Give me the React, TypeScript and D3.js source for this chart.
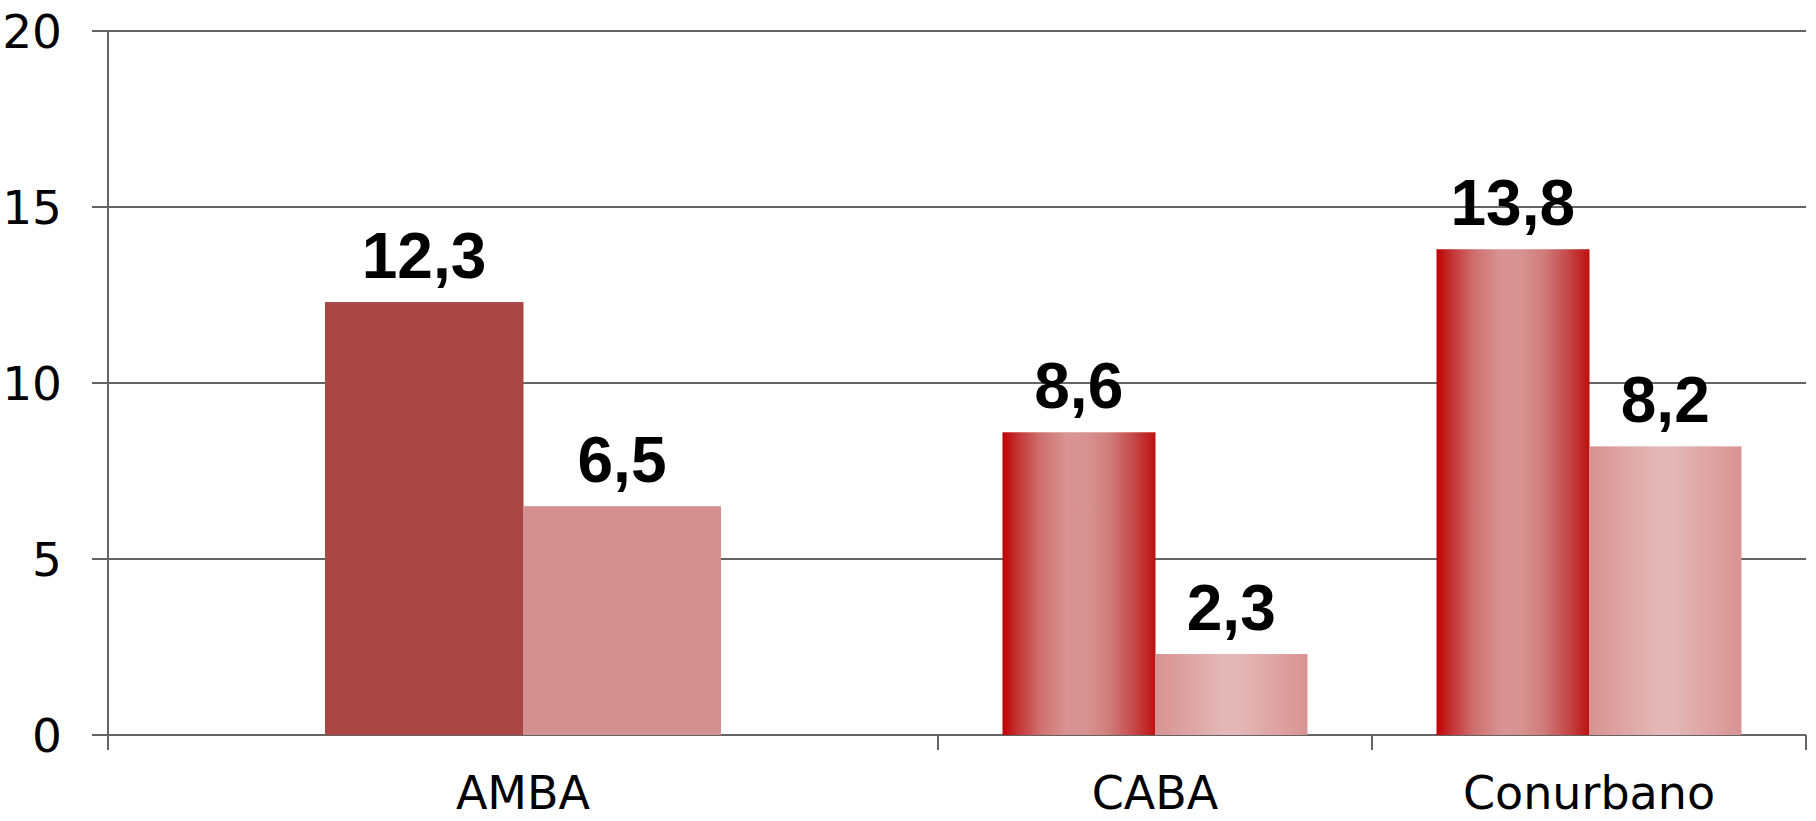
import React from "react";
import * as d3 from "d3";

const categories = ["AMBA", "CABA", "Conurbano"];
const series1 = [12.3, 8.6, 13.8];
const series2 = [6.5, 2.3, 8.2];
const yTicks = [0, 5, 10, 15, 20];
const valueLabels1 = ["12,3", "8,6", "13,8"];
const valueLabels2 = ["6,5", "2,3", "8,2"];

const W = 1816;
const H = 821;
const plotLeft = 108;
const plotRight = 1806;
const plotTop = 31;
const plotBottom = 735;
const midBoundary = 938;

export default function App() {
  const y = d3.scaleLinear().domain([0, 20]).range([plotBottom, plotTop]);

  // Two sections: AMBA alone (solid fills) and CABA/Conurbano (gradient fills)
  const sections = [
    { cats: ["AMBA"], range: [plotLeft, midBoundary], outer: 1.096, gradient: false },
    { cats: ["CABA", "Conurbano"], range: [midBoundary, plotRight], outer: 0.423, gradient: true },
  ];

  const font = "'DejaVu Sans', sans-serif";
  const boldFont = "'Liberation Sans', Arial, sans-serif";

  const bars: React.ReactNode[] = [];
  const labels: React.ReactNode[] = [];
  const catLabels: React.ReactNode[] = [];
  const xTicks: number[] = [plotLeft];

  sections.forEach((sec) => {
    const xb = d3.scaleBand<string>().domain(sec.cats).range(sec.range as [number, number]).padding(0);
    sec.cats.forEach((c) => {
      const i = categories.indexOf(c);
      const x0 = xb(c)!;
      const bw = xb.bandwidth();
      xTicks.push(x0 + bw);
      const inner = d3
        .scaleBand<string>()
        .domain(["s1", "s2"])
        .range([x0, x0 + bw])
        .paddingInner(0)
        .paddingOuter(sec.outer);
      const vals = [series1[i], series2[i]];
      const labs = [valueLabels1[i], valueLabels2[i]];
      ["s1", "s2"].forEach((s, k) => {
        const bx = inner(s)!;
        const w = inner.bandwidth();
        const fill = sec.gradient
          ? k === 0
            ? "url(#grad1)"
            : "url(#grad2)"
          : k === 0
          ? "#AA4745"
          : "#D29190";
        bars.push(
          <rect
            key={`b-${c}-${s}`}
            x={bx}
            y={y(vals[k])}
            width={w + (k === 0 ? 0.5 : 0)}
            height={y(0) - y(vals[k])}
            fill={fill}
          />
        );
        labels.push(
          <text
            key={`l-${c}-${s}`}
            x={bx + w / 2}
            y={y(vals[k]) - 24}
            textAnchor="middle"
            fontFamily={boldFont}
            fontWeight="bold"
            fontSize={64}
            fill="#000"
          >
            {labs[k]}
          </text>
        );
      });
      catLabels.push(
        <text
          key={`c-${c}`}
          x={x0 + bw / 2}
          y={809}
          textAnchor="middle"
          fontFamily={font}
          fontSize={46}
          fill="#000"
        >
          {c}
        </text>
      );
    });
  });

  return (
    <svg
      width={W}
      height={H}
      style={{ position: "absolute", left: 0, top: 0, background: "#fff" }}
    >
      <defs>
        <linearGradient id="grad1" x1="0" x2="1" y1="0" y2="0">
          <stop offset="0%" stopColor="#C00000" />
          <stop offset="10%" stopColor="#C43434" />
          <stop offset="25%" stopColor="#CE7170" />
          <stop offset="42%" stopColor="#D89392" />
          <stop offset="55%" stopColor="#D79391" />
          <stop offset="70%" stopColor="#D07C7B" />
          <stop offset="85%" stopColor="#C54B4B" />
          <stop offset="100%" stopColor="#BE1010" />
        </linearGradient>
        <linearGradient id="grad2" x1="0" x2="1" y1="0" y2="0">
          <stop offset="0%" stopColor="#D79291" />
          <stop offset="45%" stopColor="#E4B7B7" />
          <stop offset="55%" stopColor="#E4B7B7" />
          <stop offset="100%" stopColor="#D89392" />
        </linearGradient>
      </defs>

      {/* gridlines + y ticks */}
      {yTicks.map((t) => (
        <g key={`g-${t}`}>
          <line x1={92} x2={plotRight} y1={y(t)} y2={y(t)} stroke="#646464" strokeWidth={2} />
          <text
            x={62}
            y={y(t)}
            dy="0.36em"
            textAnchor="end"
            fontFamily={font}
            fontSize={47}
            fill="#000"
          >
            {t}
          </text>
        </g>
      ))}

      {/* y axis */}
      <line x1={plotLeft} x2={plotLeft} y1={plotTop} y2={750} stroke="#646464" strokeWidth={2} />

      {/* x ticks */}
      {xTicks.map((xt, i) => (
        <line key={`xt-${i}`} x1={xt} x2={xt} y1={plotBottom} y2={750} stroke="#646464" strokeWidth={2} />
      ))}

      {bars}
      {labels}
      {catLabels}
    </svg>
  );
}
